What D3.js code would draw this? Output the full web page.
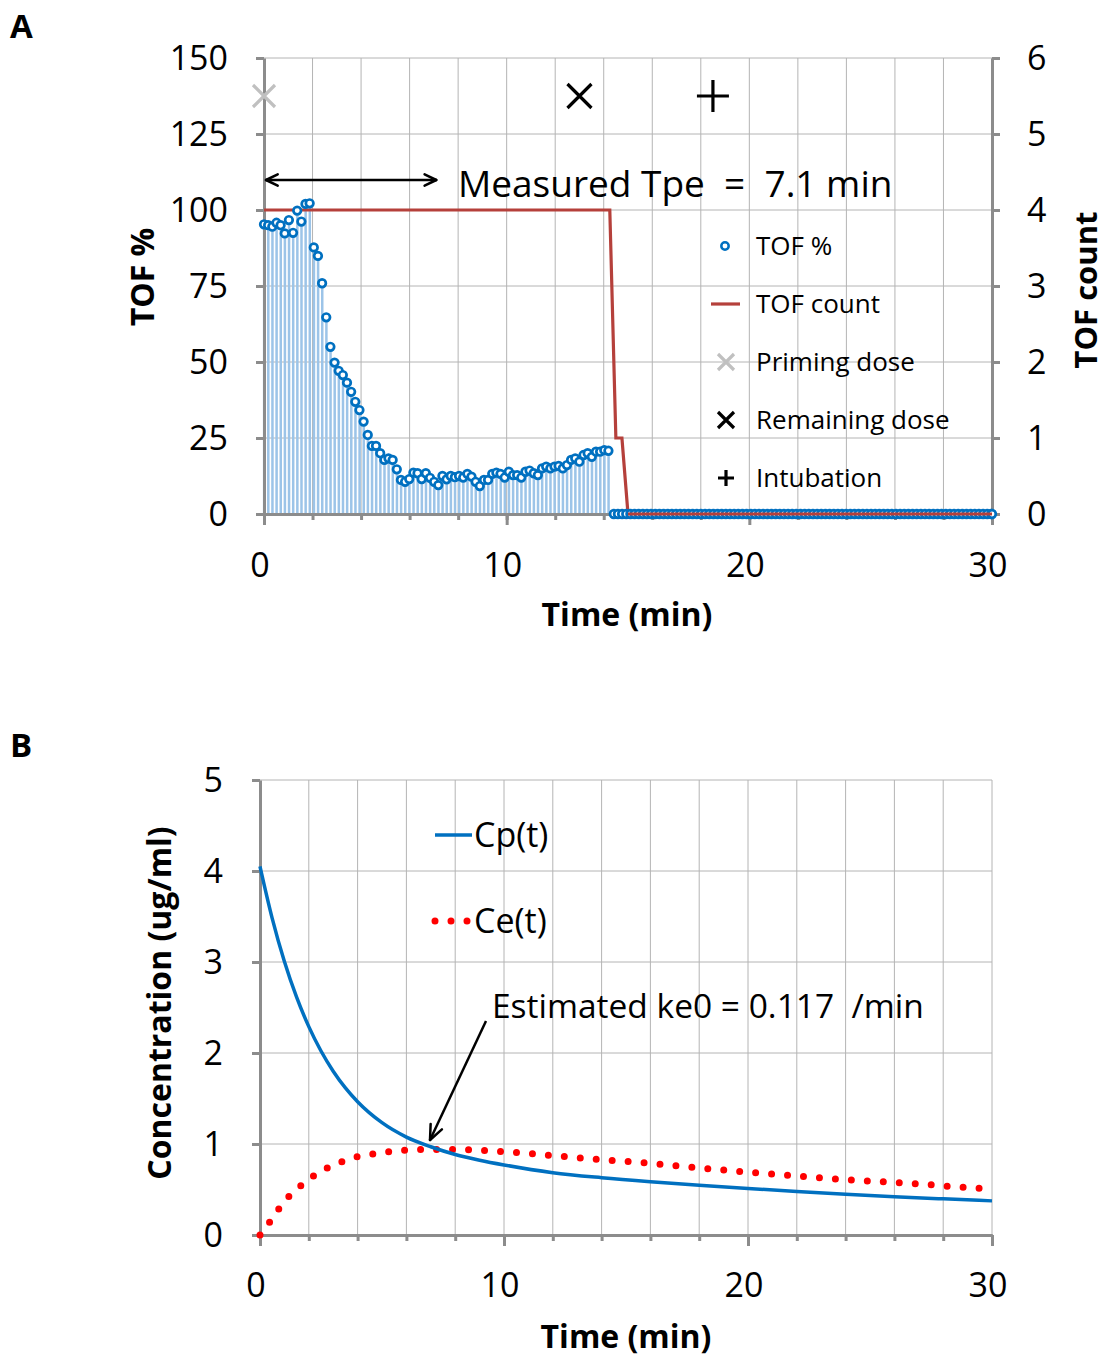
<!DOCTYPE html>
<html><head><meta charset="utf-8">
<script src="https://cdn.jsdelivr.net/npm/d3@7"></script>
<style>body{margin:0;background:#fff} text{font-family:"Open Sans",sans-serif;fill:#000}</style>
</head><body>
<svg id="c" width="1107" height="1358"></svg>
<script>
// ---------- Panel A data ----------
const tofInterval = 0.171; // minutes between TOF readings
const tofPct = [95.3,95.0,94.5,95.8,95.0,92.3,96.7,92.5,99.8,96.2,102.0,102.2,87.7,84.9,75.9,64.7,55.0,49.8,47.1,45.7,
  43.2,40.2,36.9,34.2,30.4,26.0,22.4,22.4,20.0,17.8,18.3,17.8,14.7,11.2,10.6,11.5,13.6,13.4,11.5,13.4,
  11.9,10.6,9.5,12.5,11.4,12.5,12.1,12.5,12.0,13.2,12.3,10.6,9.2,11.2,11.2,13.2,13.6,13.2,12.0,13.9,
  12.8,12.8,12.0,13.9,14.3,13.4,12.8,15.0,15.6,15.0,15.6,15.8,15.0,16.1,17.8,18.3,17.2,19.4,20.0,18.8,
  20.5,20.5,21.0,20.8];
const tofPctAfter = [0,0,0,0,0,0,0,0,0,0,0,0,0,0,0,0,0,0,0,0,0,0,0,0,0,0,0,0,0,0,0,0,0,0,0,0,0,0,0,0,
  0,0,0,0,0,0,0,0,0,0,0,0,0,0,0,0,0,0,0,0,0,0,0,0,0,0,0,0,0,0,0,0,0,0,0,0,0,0,0,0,0,0,0,0,0,0,0,0,0,0,0,0,0];
const countTimes = [0,14.25,14.5,14.75,15,30];
const countVals = [4,4,1,1,0,0];
const markerNames = ["Priming dose","Remaining dose","Intubation"];
const markerTimes = [0,13,18.5];
const markerLevels = [137.5,137.5,137.5];
const tpeValue = 7.1;
const xTicksA = [0,10,20,30];
const yTicksA = [0,25,50,75,100,125,150];
const y2TicksA = [0,1,2,3,4,5,6];
const legendA = ["TOF %","TOF count","Priming dose","Remaining dose","Intubation"];

// ---------- Panel B data ----------
const cpTimes = [0,0.5,1,1.5,2,2.5,3,3.5,4,5,6,7,8,9,10,12,14,16,18,20,22,24,26,28,30];
const cpVals  = [4.05,3.48,3.006,2.614,2.29,2.022,1.80,1.616,1.464,1.234,1.076,0.97,0.885,0.822,0.77,0.685,0.63,0.586,0.548,0.512,0.478,0.448,0.421,0.397,0.375];
const ceTimes = [0,0.5,1,1.5,2,2.5,3,3.5,4,5,6,7,8,9,10,11,12,13,14,15,16,17,18,19,20,21,22,23,24,25,26,27,28,29,30];
const ceVals  = [0,0.18,0.37,0.50,0.61,0.70,0.765,0.82,0.86,0.905,0.932,0.94,0.94,0.93,0.915,0.898,0.872,0.85,0.827,0.81,0.787,0.762,0.737,0.714,0.69,0.67,0.648,0.628,0.607,0.592,0.577,0.562,0.54,0.52,0.505];
const ke0Value = 0.117;
const xTicksB = [0,10,20,30];
const yTicksB = [0,1,2,3,4,5];

const svg = d3.select("#c");
const gridCol = "#b4b4b4", axisCol = "#8c8c8c";
const tickFont = 34, titleFont = 32;

function arrowHead(g, x1, y1, x2, y2, len, ang){
  const a = Math.atan2(y2-y1, x2-x1);
  [ang,-ang].forEach(s=>{
    g.append("line").attr("x1",x2).attr("y1",y2)
      .attr("x2",x2 - len*Math.cos(a+s)).attr("y2",y2 - len*Math.sin(a+s))
      .attr("stroke","#000").attr("stroke-width",2.5).attr("stroke-linecap","round");
  });
}

// ================= PANEL A =================
const xA = d3.scaleLinear([0,30],[264,992]);
const yA = d3.scaleLinear([0,150],[514,58]);
const y2A = d3.scaleLinear([0,6],[514,58]);
const gA = svg.append("g");

// grid
gA.append("g").selectAll("line").data(d3.range(2,31,2)).join("line")
  .attr("x1",d=>xA(d)).attr("x2",d=>xA(d)).attr("y1",yA(150)).attr("y2",yA(0))
  .attr("stroke",gridCol).attr("stroke-width",1);
gA.append("g").selectAll("line").data(yTicksA.slice(1)).join("line")
  .attr("x1",xA(0)).attr("x2",xA(30)).attr("y1",d=>yA(d)).attr("y2",d=>yA(d))
  .attr("stroke",gridCol).attr("stroke-width",1);

// bars (one per reading)
const tofData = tofPct.map((v,i)=>({t:i*tofInterval, v}));
const tofAfter = tofPctAfter.map((v,i)=>({t:Math.min(30,(tofPct.length+i)*tofInterval+0.05), v}));
gA.append("g").selectAll("rect").data(tofData).join("rect")
  .attr("x",d=>xA(d.t)-1.1).attr("width",2.5)
  .attr("y",d=>yA(d.v)).attr("height",d=>yA(0)-yA(d.v))
  .attr("fill","#9cc4e8");

// axes
const axL = gA.append("g").attr("transform",`translate(${xA(0)},0)`)
  .call(d3.axisLeft(yA).tickValues(yTicksA).tickSize(8).tickSizeOuter(0).tickFormat(""));
const axR = gA.append("g").attr("transform",`translate(${xA(30)},0)`)
  .call(d3.axisRight(y2A).tickValues(y2TicksA).tickSize(8).tickSizeOuter(0).tickFormat(""));
const axBm = gA.append("g").attr("transform",`translate(0,${yA(0)})`)
  .call(d3.axisBottom(xA).tickValues(d3.range(0,31,2)).tickSize(6).tickSizeOuter(0).tickFormat(""));
const axBM = gA.append("g").attr("transform",`translate(0,${yA(0)})`)
  .call(d3.axisBottom(xA).tickValues(xTicksA).tickSize(11).tickSizeOuter(0).tickFormat(""));
[axL,axR,axBm,axBM].forEach(a=>{
  a.select(".domain").attr("stroke",axisCol).attr("stroke-width",3);
  a.selectAll(".tick line").attr("stroke",axisCol).attr("stroke-width",3);
});

// tick labels
gA.append("g").selectAll("text").data(yTicksA).join("text")
  .attr("x",228).attr("y",d=>yA(d)).attr("dy","0.35em").attr("text-anchor","end")
  .attr("font-size",tickFont).text(d=>d);
gA.append("g").selectAll("text").data(y2TicksA).join("text")
  .attr("x",1027).attr("y",d=>y2A(d)).attr("dy","0.35em").attr("text-anchor","start")
  .attr("font-size",tickFont).text(d=>d);
gA.append("g").selectAll("text").data(xTicksA).join("text")
  .attr("x",d=>xA(d)-4).attr("y",565).attr("dy","0.35em").attr("text-anchor","middle")
  .attr("font-size",tickFont).text(d=>d);

// titles
gA.append("text").attr("transform","translate(143,277) rotate(-90)").attr("text-anchor","middle")
  .attr("dy","0.35em").attr("font-size",titleFont).attr("font-weight","bold").text("TOF %");
gA.append("text").attr("transform","translate(1086,290) rotate(-90)").attr("text-anchor","middle")
  .attr("dy","0.35em").attr("font-size",31).attr("font-weight","bold").text("TOF count");
gA.append("text").attr("x",627).attr("y",615).attr("text-anchor","middle")
  .attr("dy","0.35em").attr("font-size",titleFont).attr("font-weight","bold").text("Time (min)");

// TOF count line
const countData = countTimes.map((t,i)=>({t, v:countVals[i]}));
const countLine = d3.line().x(d=>xA(d.t)).y(d=>y2A(d.v));
gA.append("path").datum(countData).attr("d", countLine)
  .attr("fill","none").attr("stroke","#b5403b").attr("stroke-width",3.2);

// TOF % circles
gA.append("g").selectAll("circle").data(tofData.concat(tofAfter)).join("circle")
  .attr("cx",d=>xA(d.t)).attr("cy",d=>yA(d.v)).attr("r",3.8)
  .attr("fill","#fff").attr("stroke","#0070c0").attr("stroke-width",2.7);
// count zero segment drawn on top of the zero readings
gA.append("path").datum(countData.slice(4)).attr("d", countLine)
  .attr("fill","none").attr("stroke","#b5403b").attr("stroke-width",3.2);

// markers
function drawX(g,cx,cy,h,col,w){
  g.append("path").attr("d",`M${cx-h},${cy-h}L${cx+h},${cy+h}M${cx-h},${cy+h}L${cx+h},${cy-h}`)
   .attr("stroke",col).attr("stroke-width",w).attr("fill","none");
}
function drawPlus(g,cx,cy,h,col,w){
  g.append("path").attr("d",`M${cx-h},${cy}L${cx+h},${cy}M${cx},${cy-h}L${cx},${cy+h}`)
   .attr("stroke",col).attr("stroke-width",w).attr("fill","none");
}
drawX(gA, xA(markerTimes[0]), yA(markerLevels[0]), 11, "#c0c0c0", 3.2);
drawX(gA, xA(markerTimes[1]), yA(markerLevels[1]), 12, "#000", 3.2);
drawPlus(gA, xA(markerTimes[2]), yA(markerLevels[2]), 16, "#000", 3.2);

// Tpe arrow
const ay = 180;
gA.append("line").attr("x1",xA(0)+2).attr("x2",xA(tpeValue)).attr("y1",ay).attr("y2",ay)
  .attr("stroke","#000").attr("stroke-width",2.5);
arrowHead(gA, xA(tpeValue), ay, xA(0)+2, ay, 13, 0.45);
arrowHead(gA, xA(0)+2, ay, xA(tpeValue), ay, 13, 0.45);
gA.append("text").attr("x",458).attr("y",197).attr("font-size",37).style("white-space","pre")
  .text(`Measured Tpe  =  ${tpeValue} min`);

// legend A
const legY = [246,304,362,420,478];
const lg = gA.append("g");
lg.append("circle").attr("cx",725).attr("cy",legY[0]).attr("r",3.7).attr("fill","#fff").attr("stroke","#0070c0").attr("stroke-width",2.5);
lg.append("line").attr("x1",711).attr("x2",740).attr("y1",legY[1]).attr("y2",legY[1]).attr("stroke","#b5403b").attr("stroke-width",3.2);
drawX(lg,726,legY[2],8,"#c0c0c0",3.2);
drawX(lg,726,legY[3],8,"#000",3.2);
drawPlus(lg,726,legY[4],8,"#000",3.2);
lg.selectAll("text").data(legendA).join("text")
  .attr("x",756).attr("y",(d,i)=>legY[i]).attr("dy","0.35em").attr("font-size",26).text(d=>d);

// panel labels
svg.append("text").attr("x",10).attr("y",38).attr("font-size",33).attr("font-weight","bold").text("A");
svg.append("text").attr("x",10).attr("y",757).attr("font-size",33).attr("font-weight","bold").text("B");

// ================= PANEL B =================
const xB = d3.scaleLinear([0,30],[260,992]);
const yB = d3.scaleLinear([0,5],[1235,780]);
const gB = svg.append("g");
gB.append("g").selectAll("line").data(d3.range(2,31,2)).join("line")
  .attr("x1",d=>xB(d)).attr("x2",d=>xB(d)).attr("y1",yB(5)).attr("y2",yB(0))
  .attr("stroke",gridCol).attr("stroke-width",1);
gB.append("g").selectAll("line").data(yTicksB.slice(1)).join("line")
  .attr("x1",xB(0)).attr("x2",xB(30)).attr("y1",d=>yB(d)).attr("y2",d=>yB(d))
  .attr("stroke",gridCol).attr("stroke-width",1);

const bL = gB.append("g").attr("transform",`translate(${xB(0)},0)`)
  .call(d3.axisLeft(yB).tickValues(yTicksB).tickSize(8).tickSizeOuter(0).tickFormat(""));
const bBm = gB.append("g").attr("transform",`translate(0,${yB(0)})`)
  .call(d3.axisBottom(xB).tickValues(d3.range(0,31,2)).tickSize(6).tickSizeOuter(0).tickFormat(""));
const bBM = gB.append("g").attr("transform",`translate(0,${yB(0)})`)
  .call(d3.axisBottom(xB).tickValues(xTicksB).tickSize(11).tickSizeOuter(0).tickFormat(""));
[bL,bBm,bBM].forEach(a=>{
  a.select(".domain").attr("stroke",axisCol).attr("stroke-width",3);
  a.selectAll(".tick line").attr("stroke",axisCol).attr("stroke-width",3);
});
gB.append("g").selectAll("text").data(yTicksB).join("text")
  .attr("x",223).attr("y",d=>yB(d)).attr("dy","0.35em").attr("text-anchor","end")
  .attr("font-size",tickFont).text(d=>d);
gB.append("g").selectAll("text").data(xTicksB).join("text")
  .attr("x",d=>xB(d)-4).attr("y",1285).attr("dy","0.35em").attr("text-anchor","middle")
  .attr("font-size",tickFont).text(d=>d);
gB.append("text").attr("x",626).attr("y",1337).attr("text-anchor","middle")
  .attr("dy","0.35em").attr("font-size",titleFont).attr("font-weight","bold").text("Time (min)");
gB.append("text").attr("transform","translate(160,1003) rotate(-90)").attr("text-anchor","middle")
  .attr("dy","0.35em").attr("font-size",titleFont).attr("font-weight","bold").text("Concentration (ug/ml)");

// curves
gB.append("path").datum(ceTimes.map((t,i)=>({t,v:ceVals[i]})))
  .attr("d", d3.line().x(d=>xB(d.t)).y(d=>yB(d.v)).curve(d3.curveMonotoneX))
  .attr("fill","none").attr("stroke","#ff0000").attr("stroke-width",7)
  .attr("stroke-linecap","round").attr("stroke-dasharray","0 16");
gB.append("path").datum(cpTimes.map((t,i)=>({t,v:cpVals[i]})))
  .attr("d", d3.line().x(d=>xB(d.t)).y(d=>yB(d.v)).curve(d3.curveMonotoneX))
  .attr("fill","none").attr("stroke","#0070c0").attr("stroke-width",3.5);

// legend B
gB.append("line").attr("x1",435).attr("x2",472).attr("y1",835).attr("y2",835)
  .attr("stroke","#0070c0").attr("stroke-width",3.5);
gB.append("text").attr("x",474).attr("y",835).attr("dy","0.35em").attr("font-size",34).text("Cp(t)");
gB.append("line").attr("x1",435).attr("x2",468).attr("y1",921).attr("y2",921)
  .attr("stroke","#ff0000").attr("stroke-width",7).attr("stroke-linecap","round").attr("stroke-dasharray","0 16");
gB.append("text").attr("x",474).attr("y",921).attr("dy","0.35em").attr("font-size",34).text("Ce(t)");

// annotation
gB.append("text").attr("x",492).attr("y",1018).attr("font-size",33.5).style("white-space","pre")
  .text(`Estimated ke0 = ${ke0Value}  /min`);
gB.append("line").attr("x1",486).attr("y1",1021).attr("x2",430).attr("y2",1140)
  .attr("stroke","#000").attr("stroke-width",2.5);
arrowHead(gB, 486, 1021, 430, 1140, 16, 0.4);
</script>
</body></html>
